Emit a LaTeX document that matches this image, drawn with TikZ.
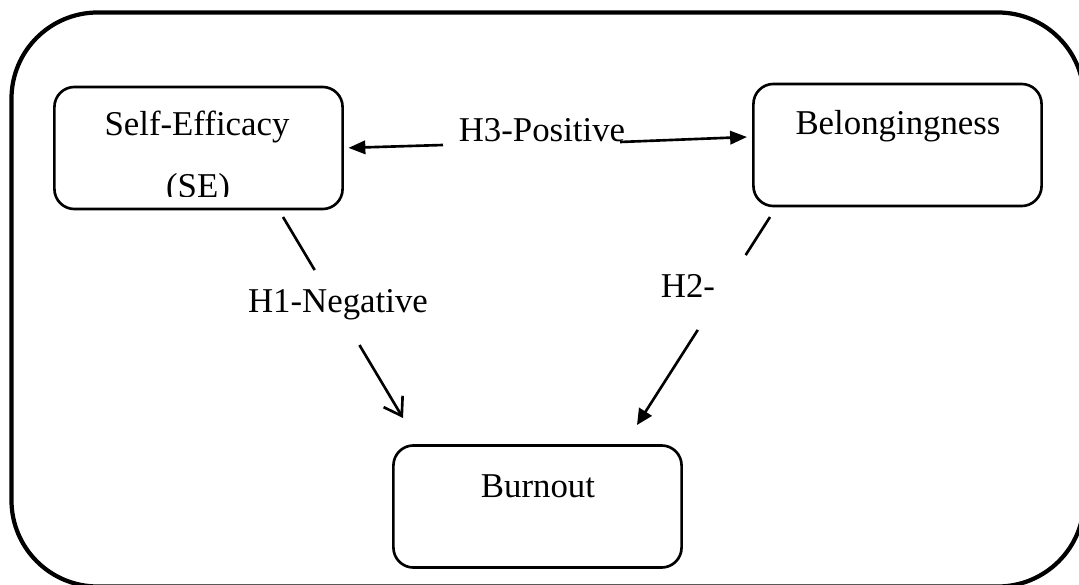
\documentclass[tikz,border=0pt]{standalone}
\usepackage{fontspec}
\setmainfont{Liberation Serif}
\usepackage{tikz}
\usetikzlibrary{calc}
\usetikzlibrary{arrows.meta}

\tikzset{
	hbox/.style={draw, line width=0.75pt, rounded corners=5.7pt, minimum width=2.88cm, minimum height=1.22cm, inner sep=0pt},
	lbl/.style={anchor=base, inner sep=0pt, font=\fontsize{9.9}{11}\selectfont},
	link/.style={line width=0.75pt},
}

\begin{document}
\begin{tikzpicture}
				\begin{scope}[x=0.01cm, y=-0.01cm]
					
					\useasboundingbox (0,0) rectangle (1079,585);
					
					\draw[line width=1.2pt, rounded corners=24.5pt] (11.5,12.5) rectangle (1084,586.5);
					
					\node[hbox] (se) at (198.5,148) {};
					\node[hbox] (bel) at (897.5,145) {};
					\node[hbox] (bur) at (537.5,506.5) {};
					
					\node[lbl] (set) at (197,136) {Self-Efficacy};
					\begin{scope}
						\clip (56,90) rectangle (341,197);
						\node[lbl] (sea) at (198,198) {(SE)};
					\end{scope}
					\node[lbl] (belt) at (898,135) {Belongingness};
					\node[lbl] (burt) at (538,497) {Burnout};
					
					\coordinate (h3l) at (443,145);
					\coordinate (h3r) at (620,142);
					\coordinate (h3e) at (747,137);
					\coordinate (h1s) at (283,217);
					\coordinate (h1e) at (403,418);
					\coordinate (h2s) at (770,217);
					\coordinate (h2e) at (637,425);
					
					\node[lbl] (h3) at (542,142) {H3-Positive};
					\node[lbl] (h1) at (338,312) {H1-Negative};
					\node[lbl] (h2) at (688,297) {H2-};
					
					\draw[link, -{Triangle[length=4.8pt, width=3.8pt]}, shorten >= 1.3pt] (h3l)--(se.east);
					
					\draw[link, -{Triangle[length=4.8pt, width=3.8pt]}] (h3r)--(h3e);
					
					\draw[link] (h1s)--($(h1s)!0.264!(h1e)$);
					
					\draw[link, -{Straight Barb[length=4.8pt, width=6.3pt]}] ($(h1s)!0.637!(h1e)$)--(h1e);
					
					\draw[link] (h2s)--($(h2s)!0.183!(h2e)$);
					
					\draw[link, -{Triangle[length=4.5pt, width=4.2pt]}] ($(h2s)!0.543!(h2e)$)--(h2e);
					
				\end{scope}
			\end{tikzpicture}
\end{document}
